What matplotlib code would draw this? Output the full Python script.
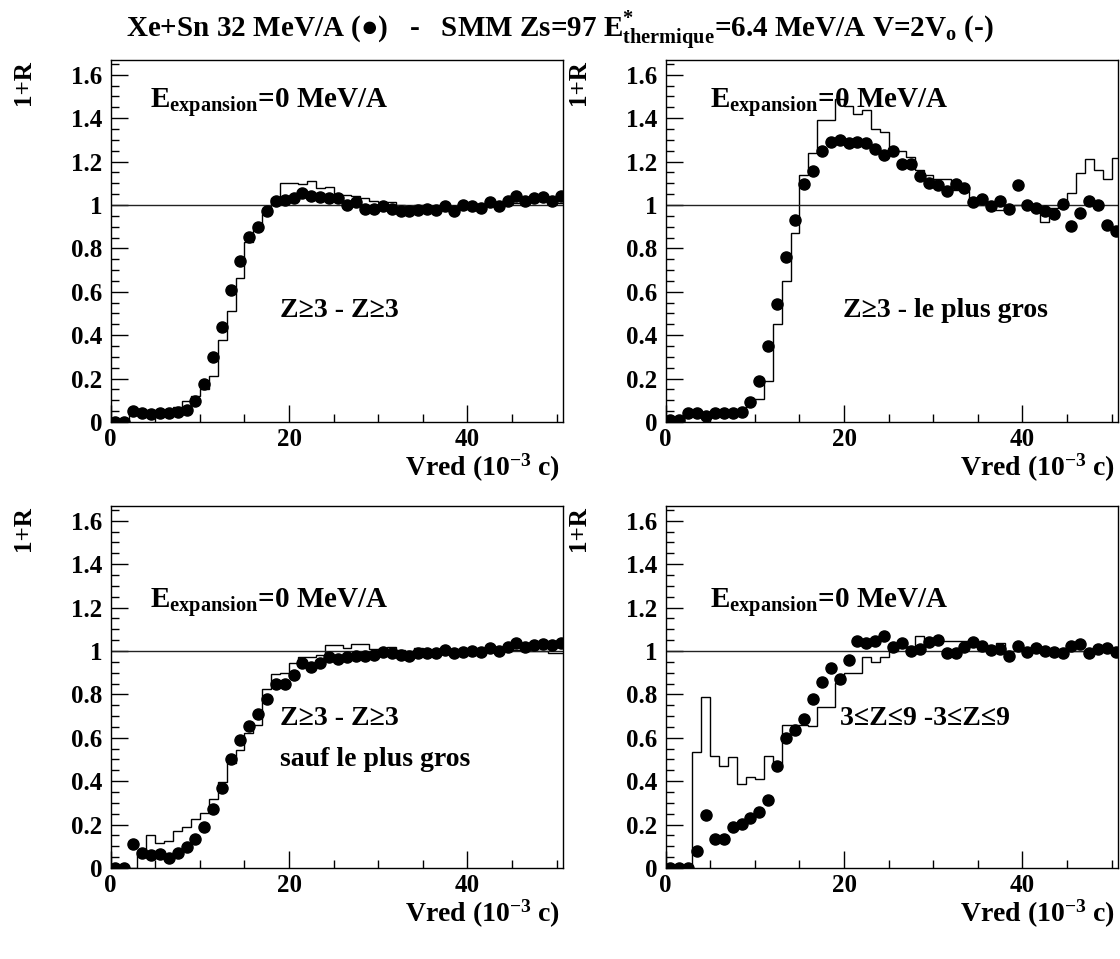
import matplotlib
matplotlib.use("Agg")
import matplotlib.pyplot as plt
import numpy as np
from matplotlib.ticker import MultipleLocator, FuncFormatter

plt.rcParams['font.family'] = ['Liberation Serif', 'DejaVu Serif']
plt.rcParams['font.weight'] = 'bold'
plt.rcParams['mathtext.fontset'] = 'custom'
plt.rcParams['mathtext.rm'] = 'Liberation Serif:bold'
plt.rcParams['mathtext.bf'] = 'Liberation Serif:bold'
plt.rcParams['mathtext.it'] = 'Liberation Serif:bold:italic'

# ---------------- data ----------------
vred = np.arange(51) + 0.5          # bin centres (10^-3 c)
bin_edges = np.arange(52)           # histogram bin edges

tl_points = [0.0, 0.0, 0.05, 0.04, 0.035, 0.043, 0.04, 0.046, 0.057, 0.096,
             0.175, 0.30, 0.44, 0.61, 0.74, 0.853, 0.90, 0.97, 1.02, 1.025,
             1.03, 1.054, 1.04, 1.035, 1.034, 1.03, 1.0, 1.015, 0.98, 0.98,
             0.997, 0.98, 0.974, 0.97, 0.977, 0.98, 0.977, 0.997, 0.97, 1.0,
             0.997, 0.986, 1.012, 0.994, 1.02, 1.04, 1.02, 1.03, 1.035, 1.02, 1.043]
tl_hist = [0.0, 0.0, 0.04, 0.04, 0.04, 0.045, 0.05, 0.07, 0.097, 0.12,
           0.15, 0.21, 0.38, 0.51, 0.665, 0.83, 0.90, 0.96, 1.03, 1.10,
           1.10, 1.095, 1.11, 1.08, 1.085, 1.045, 1.045, 1.04, 1.03, 1.02,
           1.015, 1.015, 1.0, 0.995, 1.0, 0.99, 0.995, 1.0, 0.99, 1.0,
           1.0, 0.995, 1.0, 1.0, 1.01, 1.01, 1.02, 1.02, 1.02, 1.01, 1.01]

tr_points = [0.008, 0.008, 0.043, 0.04, 0.026, 0.04, 0.043, 0.042, 0.046, 0.093,
             0.19, 0.35, 0.545, 0.76, 0.933, 1.097, 1.156, 1.25, 1.29, 1.30,
             1.286, 1.29, 1.286, 1.26, 1.232, 1.247, 1.19, 1.187, 1.133, 1.10,
             1.094, 1.063, 1.097, 1.079, 1.012, 1.028, 0.994, 1.017, 0.98, 1.09,
             1.0, 0.985, 0.972, 0.958, 1.005, 0.904, 0.963, 1.02, 1.0, 0.907, 0.88]
tr_hist = [0.0, 0.0, 0.035, 0.035, 0.035, 0.035, 0.04, 0.045, 0.054, 0.088,
           0.108, 0.19, 0.45, 0.65, 0.87, 1.14, 1.24, 1.39, 1.39, 1.487,
           1.456, 1.42, 1.437, 1.35, 1.337, 1.25, 1.25, 1.22, 1.16, 1.14,
           1.12, 1.12, 1.07, 1.066, 1.0, 1.0, 0.975, 0.975, 0.99, 1.0,
           1.0, 0.99, 0.92, 0.985, 1.005, 1.053, 1.147, 1.21, 1.16, 1.12, 1.216]

bl_points = [0.0, 0.0, 0.11, 0.07, 0.06, 0.065, 0.045, 0.07, 0.095, 0.135,
             0.19, 0.27, 0.37, 0.50, 0.59, 0.655, 0.71, 0.78, 0.85, 0.85,
             0.89, 0.945, 0.925, 0.945, 0.97, 0.965, 0.974, 0.977, 0.979, 0.98,
             0.997, 0.99, 0.98, 0.977, 0.992, 0.992, 0.992, 1.005, 0.99, 0.997,
             1.0, 0.997, 1.012, 1.0, 1.02, 1.038, 1.02, 1.028, 1.03, 1.028, 1.038]
bl_hist = [0.0, 0.0, 0.0, 0.06, 0.15, 0.115, 0.125, 0.17, 0.19, 0.228,
           0.254, 0.317, 0.397, 0.485, 0.546, 0.623, 0.66, 0.823, 0.894, 0.90,
           0.946, 0.97, 0.97, 0.98, 1.028, 1.028, 1.012, 1.03, 1.03, 1.008,
           1.005, 1.02, 1.005, 1.0, 1.012, 1.0, 1.0, 1.0, 1.0, 0.995,
           1.0, 1.0, 1.0, 1.0, 1.0, 1.005, 1.0, 1.0, 1.0, 0.99, 0.99]

br_points = [0.0, 0.0, 0.0, 0.08, 0.243, 0.132, 0.132, 0.19, 0.205, 0.232,
             0.258, 0.315, 0.47, 0.597, 0.638, 0.685, 0.777, 0.858, 0.923, 0.87,
             0.96, 1.048, 1.035, 1.048, 1.07, 1.017, 1.038, 1.0, 1.008, 1.04,
             1.05, 0.99, 0.99, 1.02, 1.04, 1.023, 1.005, 1.008, 0.977, 1.023,
             0.997, 1.015, 1.0, 0.997, 0.99, 1.023, 1.032, 0.99, 1.008, 1.012, 0.997]
br_hist = [0.0, 0.0, 0.0, 0.535, 0.79, 0.515, 0.47, 0.512, 0.386, 0.42,
           0.41, 0.515, 0.48, 0.66, 0.66, 0.66, 0.655, 0.743, 0.743, 0.854,
           0.897, 0.897, 0.974, 0.95, 0.97, 1.0, 1.02, 1.02, 1.07, 1.03,
           1.035, 1.046, 1.046, 1.046, 1.04, 1.0, 1.0, 1.035, 1.0, 1.0,
           1.0, 1.0, 1.0, 1.0, 0.995, 1.0, 1.0, 1.005, 1.0, 1.0, 1.0]

yticks = [0, 0.2, 0.4, 0.6, 0.8, 1.0, 1.2, 1.4, 1.6]
xticks = [0, 20, 40]

title = (r'Xe+Sn 32 MeV/A (●)   -   SMM Zs=97 '
         r'E$^{*}_{\rm thermique}$=6.4 MeV/A V=2V$_{\rm o}$ (-)')
exp_label = r'E$_{\rm expansion}$=0 MeV/A'

# ---------------- figure ----------------
W, H = 1120, 959
fig = plt.figure(figsize=(W / 100, H / 100), dpi=100)

ax_w = 452.6 / W
ax_h = 362.0 / H
lefts = [110.7 / W, 665.7 / W]
bottoms = [1 - 422.0 / H, 1 - 868.0 / H]

panels = [
    (0, 0, tl_points, tl_hist, [(19.0, 0.516, 'Z≥3 - Z≥3')], (4.4, 1.447)),
    (1, 0, tr_points, tr_hist, [(19.9, 0.516, 'Z≥3 - le plus gros')], (5.0, 1.447)),
    (0, 1, bl_points, bl_hist, [(19.0, 0.69, 'Z≥3 - Z≥3'),
                                (19.0, 0.50, 'sauf le plus gros')], (4.4, 1.20)),
    (1, 1, br_points, br_hist, [(19.5, 0.69, '3≤Z≤9 -3≤Z≤9')], (5.0, 1.20)),
]

for col, row, pts, hist, notes, epos in panels:
    ax = fig.add_axes([lefts[col], bottoms[row], ax_w, ax_h])
    ax.set_xlim(0, 50.75)
    ax.set_ylim(0, 1.668)
    ax.stairs(hist, bin_edges, color='black', lw=1.0, baseline=None)
    ax.axhline(1.0, color='#222222', lw=1.0)
    ax.plot(vred, pts, 'o', color='black', ms=8, mec='black')

    ax.set_yticks(yticks)
    ax.yaxis.set_minor_locator(MultipleLocator(0.05))
    ax.set_xticks(xticks)
    ax.xaxis.set_minor_locator(MultipleLocator(5))
    ax.yaxis.set_major_formatter(FuncFormatter(lambda v, p: f'{v:g}'))
    ax.xaxis.set_major_formatter(FuncFormatter(lambda v, p: f'{v:g}'))
    ax.tick_params(which='both', direction='in', top=False, right=False,
                   labelsize=18, width=1.0)
    ax.tick_params(which='major', length=12, pad=4)
    ax.tick_params(which='minor', length=6)
    ax.tick_params(axis='y', which='major', pad=6)
    for lab in ax.get_xticklabels() + ax.get_yticklabels():
        lab.set_fontweight('bold')
    for sp in ax.spines.values():
        sp.set_linewidth(1.0)

    ax.text(-0.193, 1.0, '1+R', rotation=90, ha='center', va='top',
            transform=ax.transAxes, fontsize=18, fontweight='bold')
    ax.text(0.993, -0.083, r'Vred (10$^{-3}$ c)', ha='right', va='top',
            transform=ax.transAxes, fontsize=20, fontweight='bold')
    ax.text(epos[0], epos[1], exp_label, ha='left', va='baseline',
            fontsize=21, fontweight='bold')
    for x, y, s in notes:
        ax.text(x, y, s, ha='left', va='center', fontsize=20, fontweight='bold')

fig.text(0.5, 0.968, title, ha='center', va='center', fontsize=21,
         fontweight='bold')

fig.savefig('out.png', dpi=100)
